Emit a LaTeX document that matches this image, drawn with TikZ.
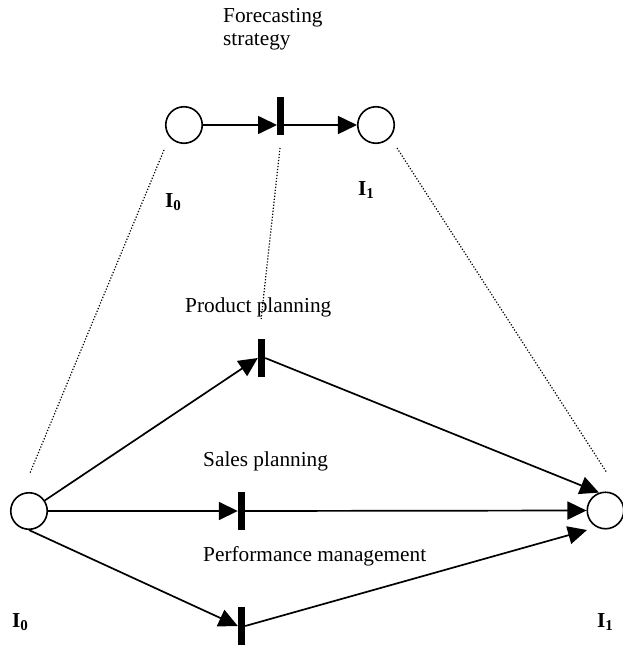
\documentclass[tikz,border=0pt]{standalone}
\usepackage{fontspec}
\setmainfont{Liberation Serif}
\usetikzlibrary{arrows.meta}
\newcommand{\lbl}[1]{\textbf{I}\raisebox{-3pt}{\fontsize{15}{15}\selectfont\textbf{#1}}}
\begin{document}
\begin{tikzpicture}[x=1pt,y=-1pt,
  place/.style={circle,draw,line width=1.6pt,minimum size=36.5pt,inner sep=0pt},
  trans/.style={rectangle,fill=black,minimum width=7pt,minimum height=38pt,inner sep=0pt},
  flow/.style={line width=1.7pt,-{Triangle[length=19pt,width=18pt]}},
  link/.style={line width=1.2pt,dash pattern=on 1.2pt off 1.8pt},
  txt/.style={anchor=base west,inner sep=0pt,font=\fontsize{21.3pt}{25pt}\selectfont},
  sub/.style={anchor=base west,inner sep=0pt,font=\fontsize{21.3pt}{25pt}\selectfont}]
\useasboundingbox (0,0) rectangle (622,647);
% top net
\node[place] (a0) at (184,125) {};
\node[trans] (at) at (280.5,116) {};
\node[place] (a1) at (376,125) {};
\coordinate (atin) at (277,125);
\coordinate (atout) at (284,125);
\draw[flow] (a0) -- (atin);
\draw[flow] (atout) -- (a1);
\node[txt] (fc1) at (223,23) {Forecasting};
\node[txt] (fc2) at (223,46) {strategy};
\node[sub] (ti0) at (165,207) {\lbl{0}};
\node[sub] (ti1) at (358,195) {\lbl{1}};
% bottom net
\node[place] (L) at (29,511) {};
\node[place] (R) at (605.5,510.5) {};
\node[trans] (P) at (261.5,358) {};
\node[trans] (S) at (241.5,511) {};
\node[trans] (F) at (241.5,626) {};
\coordinate (rin3) at (587,530);
\draw[flow] (L) -- (P.west);
\draw[flow] (P.east) -- (R.110);
\draw[flow] (L) -- (S.west);
\draw[flow] (S.east) -- (R.west);
\draw[flow] (L.south) -- (F.west);
\draw[flow] (F.east) -- (rin3);
\node[txt] (pp) at (185,312) {Product planning};
\node[txt] (sp) at (203,466) {Sales planning};
\node[txt] (pm) at (203,561) {Performance management};
\node[sub] (bi0) at (12,627) {\lbl{0}};
\node[sub] (bi1) at (597,627) {\lbl{1}};
% dotted refinement links
\coordinate (d1a) at (164,150); \coordinate (d1b) at (30,473);
\coordinate (d2a) at (280,148); \coordinate (d2b) at (261,320);
\coordinate (d3a) at (397,148); \coordinate (d3b) at (607,473);
\draw[link] (d1a) -- (d1b);
\draw[link] (d2a) -- (d2b);
\draw[link] (d3a) -- (d3b);
\end{tikzpicture}
\end{document}
